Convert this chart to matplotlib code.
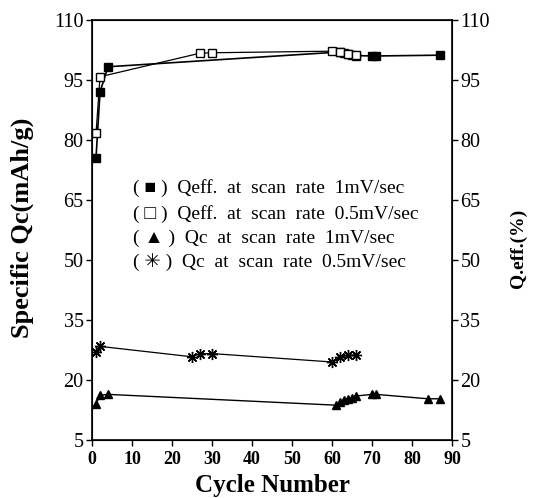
import numpy as np
from matplotlib import pyplot as plt

# Qeff at 1 mV/sec (filled squares)
eff1_x = [1, 2, 4, 62, 63, 64, 65, 66, 70, 71, 87]
eff1_y = [75.5, 92.0, 98.3, 102.0, 101.8, 101.5, 101.3, 101.1, 101.0, 101.0, 101.2]
# Qeff at 0.5 mV/sec (open squares)
eff05_x = [1, 2, 27, 30, 60, 62, 64, 66]
eff05_y = [81.7, 95.8, 101.7, 101.8, 102.2, 102.0, 101.6, 101.3]
# Qc at 1 mV/sec (triangles)
qc1_x = [1, 2, 4, 61, 62, 63, 64, 65, 66, 70, 71, 84, 87]
qc1_y = [14.0, 16.2, 16.4, 13.7, 14.5, 15.0, 15.3, 15.6, 16.0, 16.4, 16.4, 15.3, 15.3]
# Qc at 0.5 mV/sec (asterisks)
qc05_x = [1, 2, 25, 27, 30, 60, 62, 64, 66]
qc05_y = [27.0, 28.4, 25.8, 26.6, 26.6, 24.5, 25.7, 26.2, 26.2]

yticks = [5, 20, 35, 50, 65, 80, 95, 110]
xticks = [0, 10, 20, 30, 40, 50, 60, 70, 80, 90]

serif = ['Liberation Serif', 'DejaVu Serif']
plt.rcParams['font.family'] = serif

fig = plt.figure(figsize=(5.35, 4.98), dpi=100)
ax = fig.add_axes([0.172, 0.1165, 0.673, 0.8434])

ax.plot(eff1_x, eff1_y, color='black', lw=1.2, marker='s', ms=6, mfc='black', mec='black')
ax.plot(eff05_x, eff05_y, color='black', lw=0.9, marker='s', ms=6, mfc='white', mec='black')
ax.plot(qc1_x, qc1_y, color='black', lw=1.0, marker='^', ms=5.5, mfc='black', mec='black')
ax.plot(qc05_x, qc05_y, color='black', lw=0.9, marker=(8, 2, 0), ms=8, mec='black', mew=1.0)

ax.set_xlim(0, 90)
ax.set_ylim(5, 110)
ax.set_xticks(xticks)
ax.set_yticks(yticks)
ax.tick_params(axis='x', labelsize=13, direction='out', length=4.5, width=1)
ax.tick_params(axis='y', labelsize=14.5, direction='out', length=4.5, width=1, pad=1.5)
for lbl in ax.get_xticklabels():
    lbl.set_fontweight('bold')
for s in ax.spines.values():
    s.set_linewidth(1.2)

ax2 = ax.twinx()
ax2.set_ylim(5, 110)
ax2.set_yticks(yticks)
ax2.tick_params(axis='y', labelsize=14.5, direction='out', length=4.5, width=1, pad=1.5)

ax.set_xlabel('Cycle Number', fontsize=18, fontweight='bold', labelpad=4)
fig.text(0.041, 0.542, 'Specific Qc(mAh/g)', fontsize=19, fontweight='bold',
         rotation=90, ha='center', va='center')
fig.text(0.969, 0.502, 'Q.eff.(%)', fontsize=14, fontweight='bold',
         rotation=90, ha='center', va='center')

legend_lines = [
    ('( \u25A0 )  Qeff.  at  scan  rate  1mV/sec', 0.622),
    ('( \u25A1 )  Qeff.  at  scan  rate  0.5mV/sec', 0.570),
    ('( \u25B2 )  Qc  at  scan  rate  1mV/sec', 0.522),
    ('( \u2733 )  Qc  at  scan  rate  0.5mV/sec', 0.474),
]
for txt, yy in legend_lines:
    fig.text(0.249, yy, txt, fontsize=14, family=serif + ['DejaVu Sans'], va='center')

plt.savefig('out.png', dpi=100)
